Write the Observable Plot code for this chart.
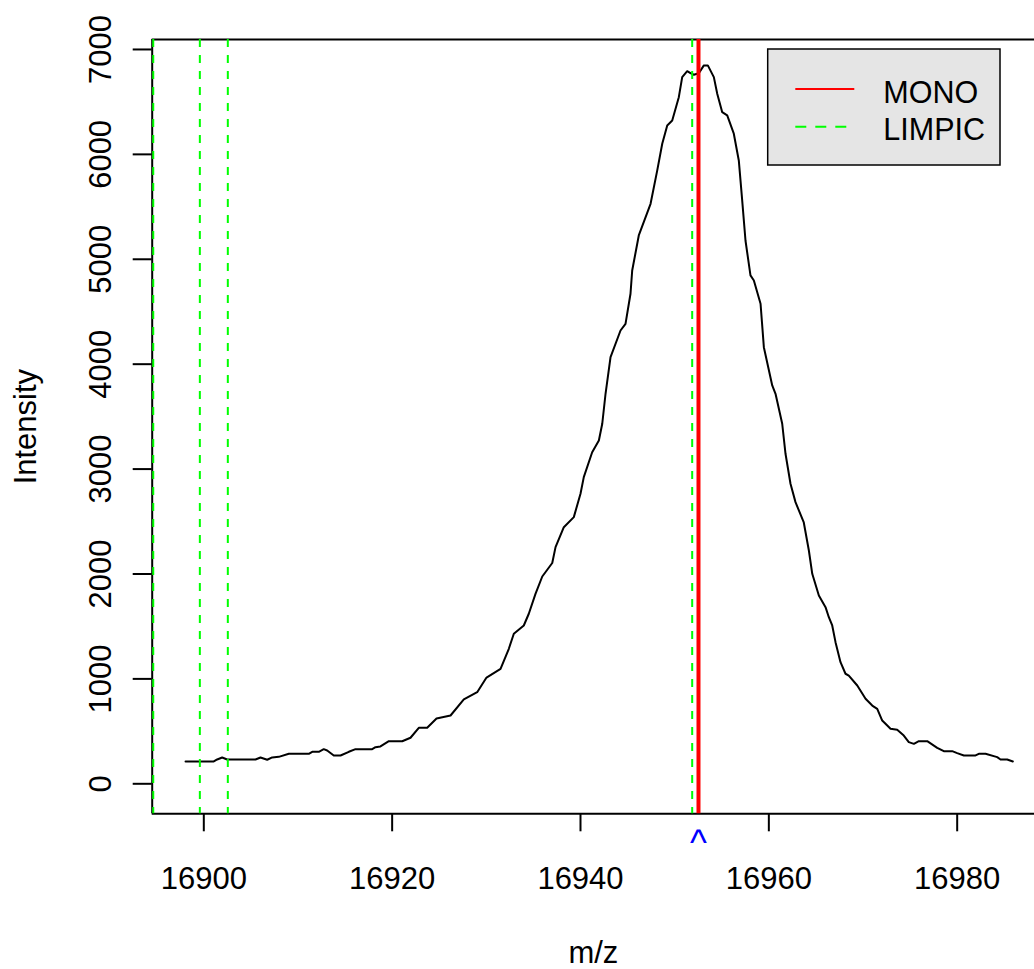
<!DOCTYPE html>
<html>
<head>
<meta charset="utf-8">
<script src="https://cdn.jsdelivr.net/npm/d3@7"></script>
<script src="https://cdn.jsdelivr.net/npm/@observablehq/plot@0.6"></script>
<style>
  html, body { margin: 0; padding: 0; background: #ffffff; }
  #chart svg { display: block; }
</style>
</head>
<body>
<div id="chart"></div>
<script>
// ---- data ----
const mz = [16898.06, 16901.06, 16901.42, 16901.95, 16902.48, 16905.49, 16906.02, 16906.73, 16907.26, 16907.96,
  16909.03, 16911.15, 16911.51, 16912.21, 16912.74, 16913.10, 16913.80, 16914.52, 16915.40, 16916.11,
  16917.88, 16918.23, 16918.76, 16919.65, 16921.07, 16921.95, 16922.83, 16923.72, 16924.71, 16926.20,
  16927.61, 16929.03, 16930.02, 16931.51, 16932.39, 16932.92, 16933.98, 16934.51, 16935.22, 16935.94,
  16937.00, 16937.35, 16938.23, 16939.29, 16940.00, 16940.35, 16941.24, 16941.95, 16942.31, 16942.66,
  16943.19, 16944.25, 16944.78, 16945.31, 16945.49, 16946.19, 16947.44, 16948.15, 16948.68, 16949.21,
  16949.74, 16950.44, 16950.80, 16951.33, 16951.68, 16952.03, 16952.57, 16953.10, 16953.52, 16954.16,
  16954.52, 16955.05, 16955.58, 16956.28, 16956.81, 16957.17, 16957.52, 16958.05, 16958.41, 16959.12,
  16959.47, 16960.36, 16960.71, 16961.42, 16961.77, 16962.30, 16962.83, 16963.71, 16964.25, 16964.61,
  16965.31, 16966.02, 16966.37, 16966.73, 16967.08, 16967.61, 16968.14, 16968.49, 16969.39, 16970.27,
  16970.98, 16971.51, 16972.04, 16972.92, 16973.63, 16974.33, 16974.86, 16975.40, 16975.93, 16976.82,
  16977.88, 16978.58, 16979.47, 16980.00, 16980.71, 16981.95, 16982.30, 16983.01, 16984.25, 16984.60,
  16985.31, 16985.91];

const intensity = [213, 213, 232, 251, 232, 232, 251, 229, 251, 257,
  286, 286, 305, 305, 330, 318, 270, 270, 305, 330,
  330, 349, 356, 406, 406, 439, 534, 534, 623, 651,
  804, 873, 1013, 1096, 1287, 1430, 1509, 1621, 1811, 1976,
  2105, 2256, 2446, 2542, 2765, 2923, 3161, 3273, 3432, 3718,
  4067, 4321, 4385, 4671, 4893, 5227, 5529, 5847, 6101, 6276,
  6323, 6545, 6736, 6793, 6774, 6759, 6774, 6848, 6848, 6736,
  6578, 6402, 6371, 6197, 5942, 5561, 5179, 4846, 4798, 4576,
  4162, 3797, 3718, 3432, 3146, 2860, 2685, 2491, 2224, 2002,
  1795, 1684, 1588, 1509, 1350, 1159, 1049, 1032, 937, 810,
  746, 715, 603, 524, 515, 460, 397, 381, 406, 406,
  343, 311, 311, 292, 270, 270, 286, 286, 254, 232,
  232, 213];

const limpic = [16894.63, 16899.58, 16902.55, 16951.86];
const mono = [16952.53];

const xTicks = [16900, 16920, 16940, 16960, 16980];
const yTicks = [0, 1000, 2000, 3000, 4000, 5000, 6000, 7000];
const xDomain = [16894.52, 16988.21];
const yDomain = [-286, 7095];

const legendLabels = ["MONO", "LIMPIC"];
const xLabel = "m/z";
const yLabel = "Intensity";

const spectrum = mz.map((x, i) => ({mz: x, intensity: intensity[i]}));

const font = "'Liberation Sans', Arial, Helvetica, sans-serif";
const fs = 31;

const chart = Plot.plot({
  width: 1034,
  height: 969,
  marginLeft: 151.7,
  marginRight: 0,
  marginTop: 39,
  marginBottom: 155.7,
  x: {domain: xDomain},
  y: {domain: yDomain},
  style: {fontFamily: font, fontSize: fs + "px", color: "black", background: "white", overflow: "visible"},
  marks: [
    Plot.axisX(xTicks, {tickSize: 18, tickPadding: 35, tickFormat: d => String(d), label: null, strokeWidth: 2, fontSize: fs, fill: "black"}),
    Plot.axisY(yTicks, {tickSize: 19, tickPadding: 22, tickRotate: -90, tickFormat: d => String(d), label: null, strokeWidth: 2, fontSize: fs, fill: "black"}),
    // box: left, top, bottom (right side lies at the picture edge)
    Plot.ruleX([xDomain[0]], {stroke: "black", strokeWidth: 2}),
    Plot.ruleY([yDomain[0], yDomain[1]], {stroke: "black", strokeWidth: 2}),
    Plot.line(spectrum, {x: "mz", y: "intensity", stroke: "black", strokeWidth: 2}),
    Plot.ruleX(limpic, {stroke: "#00ff00", strokeWidth: 2, strokeDasharray: "8,8"}),
    Plot.ruleX(mono, {stroke: "#ff0000", strokeWidth: 4}),
    Plot.text(mono, {x: d => d, text: () => "^", frameAnchor: "bottom", lineAnchor: "bottom", dy: 41, fill: "#0000ff", fontSize: 36}),
    Plot.text([xLabel], {frameAnchor: "bottom", lineAnchor: "bottom", dy: 148.7, fill: "black", fontSize: fs}),
    Plot.text([yLabel], {frameAnchor: "left", rotate: -90, lineAnchor: "bottom", textAnchor: "middle", dx: -116.7, fill: "black", fontSize: fs})
  ]
});

document.getElementById("chart").appendChild(chart);

// legend (top right, as in R's legend())
const svg = d3.select(chart);
const lg = svg.append("g").attr("font-family", font).attr("font-size", 30.5).attr("text-anchor", "start");
lg.append("rect")
  .attr("x", 767.7).attr("y", 49).attr("width", 232.3).attr("height", 116)
  .attr("fill", "#e5e5e5").attr("stroke", "black").attr("stroke-width", 1.5);
lg.append("line")
  .attr("x1", 795.3).attr("x2", 854.3).attr("y1", 89).attr("y2", 89)
  .attr("stroke", "#ff0000").attr("stroke-width", 2);
lg.append("line")
  .attr("x1", 795.3).attr("x2", 854.3).attr("y1", 126.7).attr("y2", 126.7)
  .attr("stroke", "#00ff00").attr("stroke-width", 2).attr("stroke-dasharray", "11,9");
lg.append("text").attr("x", 883.3).attr("y", 102.7).attr("fill", "black").attr("text-anchor", "start").text(legendLabels[0]);
lg.append("text").attr("x", 883.3).attr("y", 140).attr("fill", "black").attr("text-anchor", "start").text(legendLabels[1]);
</script>
</body>
</html>
